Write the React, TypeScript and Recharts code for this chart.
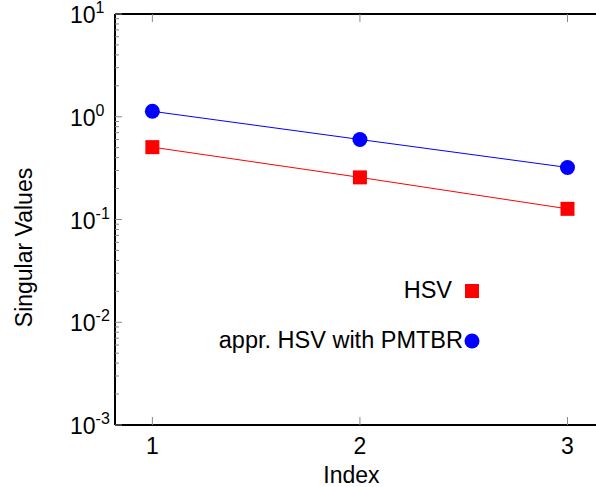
import { ComposedChart, Line, XAxis, YAxis, Legend } from "recharts";

const indices = [1, 2, 3];
const hsv = [0.506, 0.257, 0.127];
const pmtbr = [1.13, 0.601, 0.321];
const xTicks = [1, 2, 3];
const yMajor = [0.001, 0.01, 0.1, 1, 10];
const yExponents = ["-3", "-2", "-1", "0", "1"];
const minorFactors = [2, 3, 4, 5, 6, 7, 8, 9];

const data = indices.map((x, i) => ({ x, hsv: hsv[i], pmtbr: pmtbr[i] }));

const yMinor = yMajor
  .slice(0, -1)
  .flatMap((m) => minorFactors.map((f) => +(m * f).toPrecision(3)));
const yTicks = [...yMajor, ...yMinor].sort((a, b) => a - b);

const FONT = "'Liberation Sans', Arial, sans-serif";
const TICK = "#888888";
const AXIS = { stroke: "#000000", strokeWidth: 2 };

function YTick({ x, y, payload }: any) {
  const idx = yMajor.indexOf(payload.value);
  const major = idx >= 0;
  return (
    <g>
      <line x1={x} x2={x + (major ? 7 : 4)} y1={y} y2={y} stroke={TICK} strokeWidth={1} />
      {major && (
        <text x={x - 45} y={y + 9} fontFamily={FONT} fontSize={23} fill="#000" strokeWidth={0}>
          10
          <tspan fontSize={16} dy={-10}>
            {yExponents[idx]}
          </tspan>
        </text>
      )}
    </g>
  );
}

function XTickBottom({ x, y, payload }: any) {
  return (
    <g>
      <line x1={x} x2={x} y1={y} y2={y - 8} stroke={TICK} strokeWidth={1} />
      <text x={x} y={y + 29} textAnchor="middle" fontFamily={FONT} fontSize={23} fill="#000" strokeWidth={0}>
        {payload.value}
      </text>
    </g>
  );
}

function XTickTop({ x, y }: any) {
  return <line x1={x} x2={x} y1={y} y2={y + 8} stroke={TICK} strokeWidth={1} />;
}

function SquareDot({ cx, cy }: any) {
  return <rect x={cx - 7} y={cy - 7} width={14} height={14} fill="#ff0000" />;
}

function CircleDot({ cx, cy }: any) {
  return <circle cx={cx} cy={cy} r={7.5} fill="#0000ff" />;
}

function LegendBox() {
  const row = (label: string, marker: any, w: number, top: number) => (
    <div
      style={{
        position: "absolute",
        right: 0,
        top,
        display: "flex",
        alignItems: "center",
        whiteSpace: "nowrap",
        fontFamily: FONT,
        fontSize: 23.5,
        color: "#000",
      }}
    >
      <span>{label}</span>
      <svg width={w} height={20}>
        {marker}
      </svg>
    </div>
  );
  return (
    <div style={{ position: "relative", width: 300, height: 80 }}>
      {row("HSV", <rect x={13} y={3} width={14} height={14} fill="#ff0000" />, 29, 1)}
      {row("appr. HSV with PMTBR", <circle cx={9} cy={10} r={7.5} fill="#0000ff" />, 18, 51)}
    </div>
  );
}

export default function App() {
  return (
    <div
      style={{
        position: "fixed",
        left: 0,
        top: 0,
        width: 596,
        height: 487,
        overflow: "hidden",
        background: "#fff",
      }}
    >
      <ComposedChart
        width={610}
        height={487}
        data={data}
        margin={{ top: 0, right: 1, bottom: 0, left: 0 }}
      >
        <XAxis
          dataKey="x"
          type="number"
          domain={[0.82, 3.2]}
          ticks={xTicks}
          interval={0}
          height={62}
          tickSize={0}
          tickMargin={0}
          tickLine={false}
          stroke="#000000"
          strokeWidth={2}
          axisLine={AXIS}
          tick={<XTickBottom />}
          allowDataOverflow
        />
        <XAxis
          xAxisId="top"
          orientation="top"
          dataKey="x"
          type="number"
          domain={[0.82, 3.2]}
          ticks={xTicks}
          interval={0}
          height={14}
          tickSize={0}
          tickMargin={0}
          tickLine={false}
          stroke="#000000"
          strokeWidth={2}
          axisLine={AXIS}
          tick={<XTickTop />}
          allowDataOverflow
        />
        <YAxis
          scale="log"
          type="number"
          domain={[0.001, 10]}
          ticks={yTicks}
          interval={0}
          width={115}
          tickSize={0}
          tickMargin={0}
          tickLine={false}
          stroke="#000000"
          strokeWidth={2}
          axisLine={AXIS}
          tick={<YTick />}
          allowDataOverflow
          label={{
            value: "Singular Values",
            angle: -90,
            position: "insideLeft",
            dx: 19,
            dy: 28,
            style: { fontFamily: FONT, fontSize: 23, fill: "#000", stroke: "none", textAnchor: "middle" },
          }}
        />
        <Legend
          layout="vertical"
          align="center"
          verticalAlign="middle"
          content={<LegendBox />}
          wrapperStyle={{ position: "absolute", left: 181, top: 276, width: 300, height: 80 }}
        />
        <Line
          dataKey="hsv"
          name="HSV"
          type="linear"
          stroke="#ff0000"
          strokeWidth={1}
          dot={<SquareDot />}
          isAnimationActive={false}
        />
        <Line
          dataKey="pmtbr"
          name="appr. HSV with PMTBR"
          type="linear"
          stroke="#0000ff"
          strokeWidth={1}
          dot={<CircleDot />}
          isAnimationActive={false}
        />
      </ComposedChart>
      <div
        style={{
          position: "absolute",
          left: 0,
          top: 462,
          width: 703,
          textAlign: "center",
          fontFamily: FONT,
          fontSize: 23,
          lineHeight: "27px",
        }}
      >
        Index
      </div>
    </div>
  );
}
